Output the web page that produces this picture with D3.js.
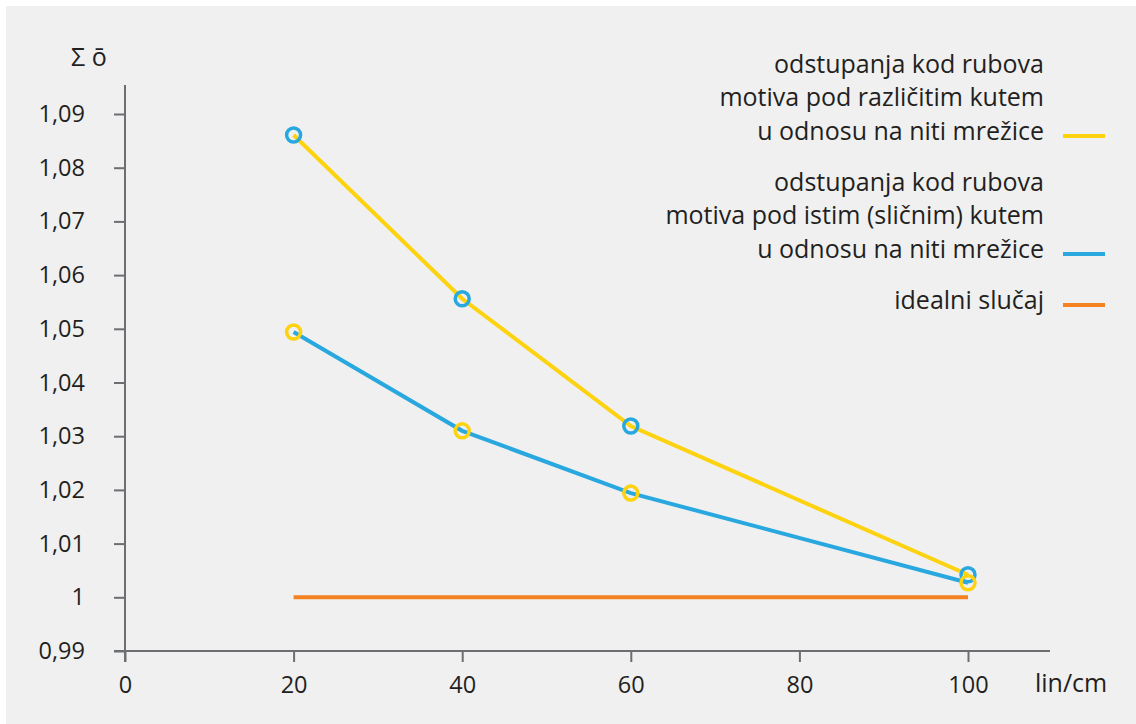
<!DOCTYPE html>
<html>
<head>
<meta charset="utf-8">
<script src="https://cdn.jsdelivr.net/npm/d3@7"></script>
<style>
  body { margin: 0; background: #fff; }
  svg text { font-family: "Open Sans", sans-serif; fill: #231f20; }
</style>
</head>
<body>
<div id="chart"></div>
<script>
// data
const xValues = [20, 40, 60, 100];
const razlicitiKut = [1.0861, 1.0556, 1.0319, 1.0042];  // yellow line
const istiKut = [1.0494, 1.0310, 1.0194, 1.0027];       // blue line
const idealno = [1, 1, 1, 1];                           // orange line
const xTicks = [0, 20, 40, 60, 80, 100];
const yTicks = [0.99, 1, 1.01, 1.02, 1.03, 1.04, 1.05, 1.06, 1.07, 1.08, 1.09];
const legendLabels = [
    ["odstupanja kod rubova", "motiva pod različitim kutem", "u odnosu na niti mrežice"],
    ["odstupanja kod rubova", "motiva pod istim (sličnim) kutem", "u odnosu na niti mrežice"],
    ["idealni slučaj"]
];

const yellow = "#fdd20e";
const blue = "#29a8e0";
const orange = "#f58220";
const axisCol = "#6d6e71";

let w = 1136;
let h = 724;

let svg = d3.select("#chart")
    .append("svg")
    .attr("width", w)
    .attr("height", h);

svg.append("rect")
    .attr("x", 6)
    .attr("y", 6)
    .attr("width", w - 6)
    .attr("height", h - 6)
    .attr("fill", "#f0f0f0");

let x = d3.scaleLinear().domain([0, 100]).range([125, 968]);
let y = d3.scaleLinear().domain([0.99, 1.09]).range([651, 114]);

// axes
let xAxis = svg.append("g")
    .attr("transform", "translate(0,651)")
    .call(d3.axisBottom(x).tickValues(xTicks).tickSize(11).tickPadding(14).tickFormat(d3.format("d")));
xAxis.select(".domain").attr("d", "M114,0H1050");

let yAxis = svg.append("g")
    .attr("transform", "translate(125,0)")
    .call(d3.axisLeft(y).tickValues(yTicks).tickSize(11).tickPadding(29)
        .tickFormat(d => d3.format(".2f")(d).replace(".", ",").replace(/^1,00$/, "1")));
yAxis.select(".domain").attr("d", "M0,85V662");

svg.selectAll(".domain, .tick line")
    .attr("stroke", axisCol)
    .attr("stroke-width", 2);
svg.selectAll(".tick text")
    .attr("font-family", "Open Sans")
    .attr("font-size", 23.5)
    .attr("fill", "#231f20");

svg.append("text")
    .attr("x", 71)
    .attr("y", 66)
    .attr("font-size", 25)
    .text("Σ ō");

svg.append("text")
    .attr("x", 1035)
    .attr("y", 692)
    .attr("font-size", 25)
    .text("lin/cm");

// lines
let line = d3.line()
    .x((d, i) => x(xValues[i]))
    .y(d => y(d));

svg.append("path")
    .attr("d", line(idealno))
    .attr("fill", "none")
    .attr("stroke", orange)
    .attr("stroke-width", 4);

svg.append("path")
    .attr("d", line(razlicitiKut))
    .attr("fill", "none")
    .attr("stroke", yellow)
    .attr("stroke-width", 4);

svg.append("path")
    .attr("d", line(istiKut))
    .attr("fill", "none")
    .attr("stroke", blue)
    .attr("stroke-width", 4);

// markers: blue rings on the yellow line, yellow rings on the blue line
svg.selectAll(".m1")
    .data(razlicitiKut)
    .enter()
    .append("circle")
    .attr("cx", (d, i) => x(xValues[i]))
    .attr("cy", d => y(d))
    .attr("r", 7)
    .attr("fill", "none")
    .attr("stroke", blue)
    .attr("stroke-width", 3.5);

svg.selectAll(".m2")
    .data(istiKut)
    .enter()
    .append("circle")
    .attr("cx", (d, i) => x(xValues[i]))
    .attr("cy", d => y(d))
    .attr("r", 7)
    .attr("fill", "none")
    .attr("stroke", yellow)
    .attr("stroke-width", 3.5);

// legend
let legendColors = [yellow, blue, orange];
let legendBase = [[73, 106, 140], [191, 224, 258], [309]];
let legend = svg.append("g");

legendLabels.forEach((lines, k) => {
    lines.forEach((txt, j) => {
        legend.append("text")
            .attr("x", 1044)
            .attr("y", legendBase[k][j])
            .attr("text-anchor", "end")
            .attr("font-size", 25)
            .text(txt);
    });
    let ly = legendBase[k][lines.length - 1] - 4;
    legend.append("line")
        .attr("x1", 1063)
        .attr("x2", 1105)
        .attr("y1", ly)
        .attr("y2", ly)
        .attr("stroke", legendColors[k])
        .attr("stroke-width", 4);
});
</script>
</body>
</html>
